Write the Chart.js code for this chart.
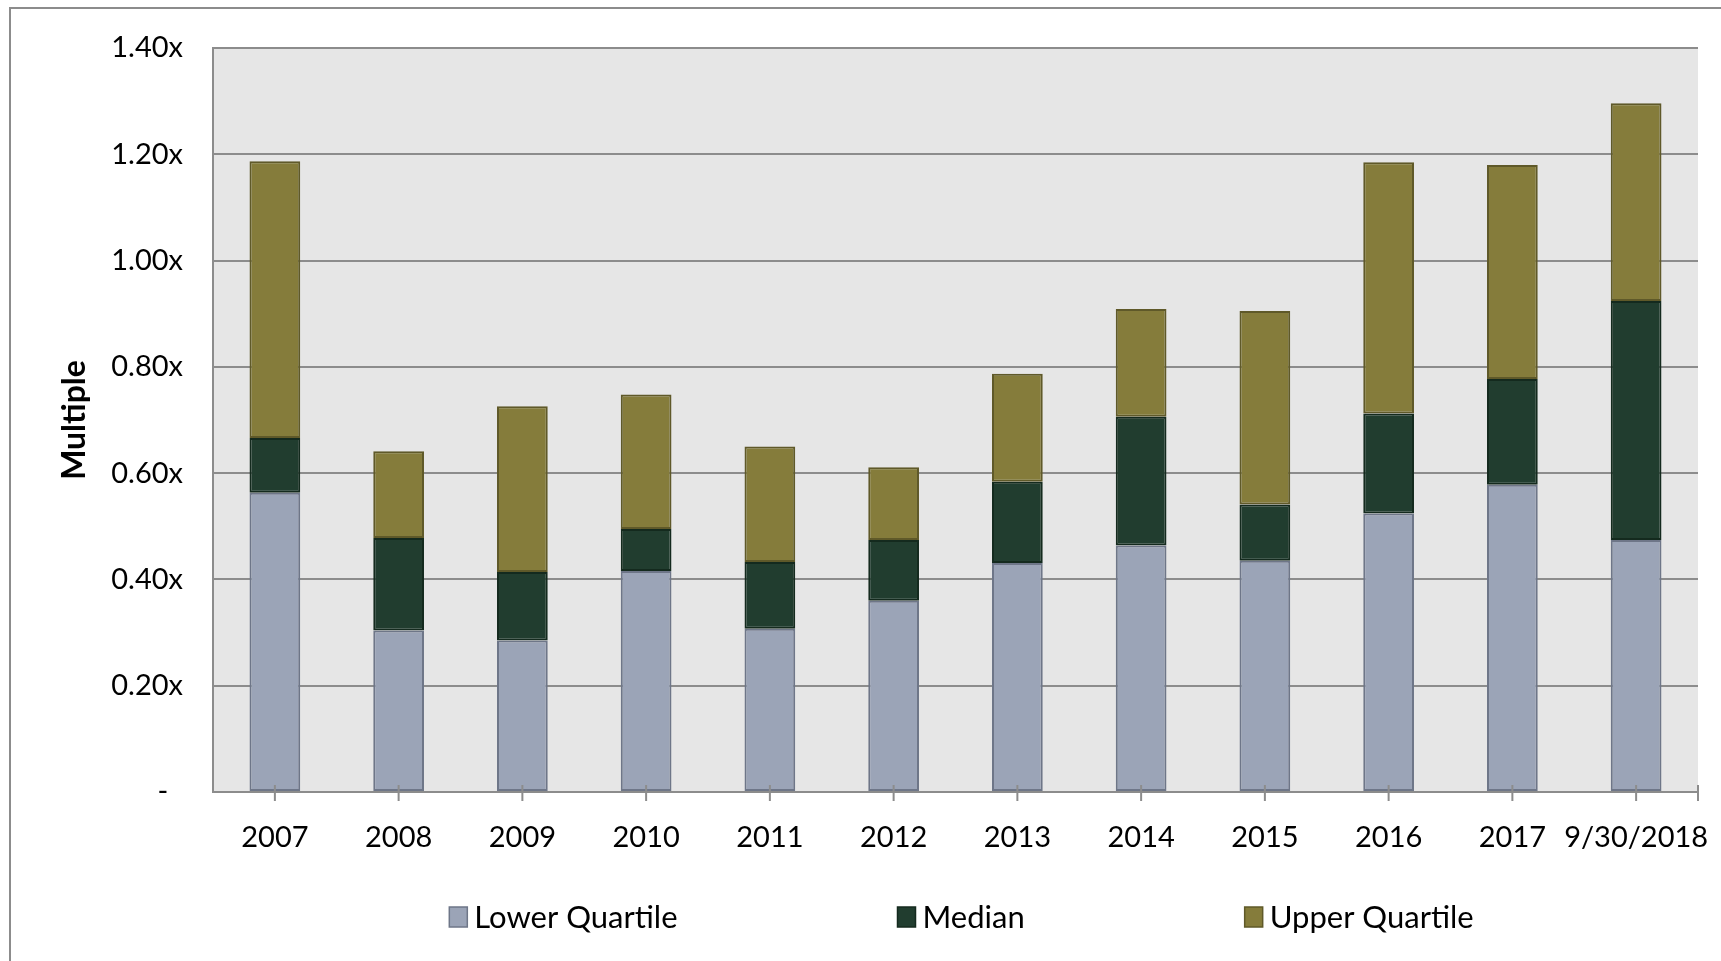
<!DOCTYPE html>
<html>
<head>
<meta charset="utf-8">
<title>Multiple by year</title>
<script src="https://cdn.jsdelivr.net/npm/chart.js@4.4.0/dist/chart.umd.min.js"></script>
<style>
    html, body { margin: 0; padding: 0; background: #ffffff; }
    #wrap { width: 1721px; height: 961px; }
</style>
</head>
<body>
<div id="wrap"><canvas id="multipleChart" width="1721" height="961"></canvas></div>
<script>
// Chart data
const years = ['2007', '2008', '2009', '2010', '2011', '2012', '2013', '2014', '2015', '2016', '2017', '9/30/2018'];
const lowerQuartile = [0.563, 0.304, 0.285, 0.416, 0.307, 0.360, 0.431, 0.464, 0.435, 0.524, 0.578, 0.474];
const median        = [0.666, 0.478, 0.414, 0.495, 0.433, 0.474, 0.584, 0.706, 0.541, 0.712, 0.777, 0.924];
const upperQuartile = [1.187, 0.641, 0.726, 0.748, 0.650, 0.611, 0.787, 0.909, 0.905, 1.185, 1.180, 1.296];
const yMax = 1.4;
const yStep = 0.2;

const FONT = 'Lato';
const GRID_COLOR = '#8c8c8c';

// Plot background + outer frame
const backgroundPlugin = {
    id: 'plotBackground',
    beforeDraw(chart) {
        const { ctx, chartArea } = chart;
        ctx.save();
        ctx.fillStyle = '#e6e6e6';
        ctx.fillRect(chartArea.left, chartArea.top, chartArea.right - chartArea.left, chartArea.bottom - chartArea.top);

        ctx.strokeStyle = GRID_COLOR;
        ctx.lineWidth = 2;
        ctx.beginPath();
        ctx.moveTo(10, chart.height);
        ctx.lineTo(10, 8);
        ctx.lineTo(chart.width, 8);
        ctx.stroke();
        ctx.restore();
    }
};

// Tick marks crossing the x axis (at bar centres and at the right end)
const xTickPlugin = {
    id: 'xTicks',
    afterDraw(chart) {
        const { ctx, chartArea } = chart;
        const xScale = chart.scales.x;
        const marks = years.map((_, i) => xScale.getPixelForTick(i));
        marks.push(chartArea.right);
        ctx.save();
        ctx.strokeStyle = GRID_COLOR;
        ctx.lineWidth = 2;
        ctx.beginPath();
        marks.forEach(x => {
            ctx.moveTo(x, chartArea.bottom - 7);
            ctx.lineTo(x, chartArea.bottom + 9);
        });
        ctx.stroke();
        ctx.restore();
    }
};

// Legend drawn under the plot
const legendPlugin = {
    id: 'quartileLegend',
    afterDraw(chart) {
        const { ctx, chartArea } = chart;
        const boxW = 18, boxH = 20, gap = 7, spacing = 220;
        const y = 917;
        ctx.save();
        ctx.font = '31px ' + FONT;
        const items = chart.data.datasets.map(ds => ({
            ds: ds,
            w: boxW + gap + ctx.measureText(ds.label).width
        }));
        const total = items.reduce((s, it) => s + it.w, 0) + spacing * (items.length - 1);
        let x = (chartArea.left + chartArea.right) / 2 - total / 2 + 6;
        items.forEach(it => {
            ctx.fillStyle = it.ds.backgroundColor;
            ctx.fillRect(x, y - boxH / 2, boxW, boxH);
            ctx.strokeStyle = it.ds.borderColor;
            ctx.lineWidth = 1.5;
            ctx.strokeRect(x, y - boxH / 2, boxW, boxH);
            ctx.fillStyle = '#000000';
            ctx.textBaseline = 'middle';
            ctx.textAlign = 'left';
            ctx.fillText(it.ds.label, x + boxW + gap, y + 1);
            x += it.w + spacing;
        });
        ctx.restore();
    }
};

function makeDataset(label, from, to, fill, border) {
    return {
        label: label,
        data: years.map((_, i) => [from ? from[i] : 0, to[i]]),
        backgroundColor: fill,
        borderColor: border,
        borderWidth: 2,
        borderSkipped: false,
        grouped: false,
        barPercentage: 0.41,
        categoryPercentage: 1
    };
}

const ctx = document.getElementById('multipleChart').getContext('2d');
new Chart(ctx, {
    type: 'bar',
    data: {
        labels: years,
        datasets: [
            makeDataset('Lower Quartile', null, lowerQuartile, '#9ba4b7', '#6e7688'),
            makeDataset('Median', lowerQuartile, median, '#213d2f', '#142a1e'),
            makeDataset('Upper Quartile', median, upperQuartile, '#857c3b', '#5f5929')
        ]
    },
    options: {
        responsive: false,
        animation: false,
        events: [],
        layout: {
            padding: { left: 0, top: 48, right: 23, bottom: 0 }
        },
        plugins: {
            legend: { display: false },
            tooltip: { enabled: false }
        },
        scales: {
            x: {
                offset: true,
                grid: { display: false, drawTicks: false },
                border: { display: true, color: GRID_COLOR, width: 2 },
                ticks: {
                    color: '#000000',
                    font: { family: FONT, size: 29 },
                    padding: 28,
                    maxRotation: 0,
                    autoSkip: false
                },
                afterFit(scale) {
                    scale.height = 169;
                    scale.paddingLeft = 0;
                    scale.paddingRight = 0;
                }
            },
            y: {
                min: 0,
                max: yMax,
                grid: { color: GRID_COLOR, lineWidth: 2, drawTicks: false },
                border: { display: true, color: GRID_COLOR, width: 2 },
                ticks: {
                    stepSize: yStep,
                    color: '#000000',
                    font: { family: FONT, size: 29 },
                    padding: 30,
                    callback: value => value === 0 ? '-  ' : value.toFixed(2) + 'x'
                },
                title: {
                    display: true,
                    text: 'Multiple',
                    color: '#000000',
                    font: { family: FONT, size: 32, weight: 'bold' },
                    padding: { top: 55, bottom: 0 }
                },
                afterFit(scale) {
                    scale.width = 213;
                    scale.paddingTop = 0;
                    scale.paddingBottom = 0;
                }
            }
        }
    },
    plugins: [backgroundPlugin, xTickPlugin, legendPlugin]
});
</script>
</body>
</html>
